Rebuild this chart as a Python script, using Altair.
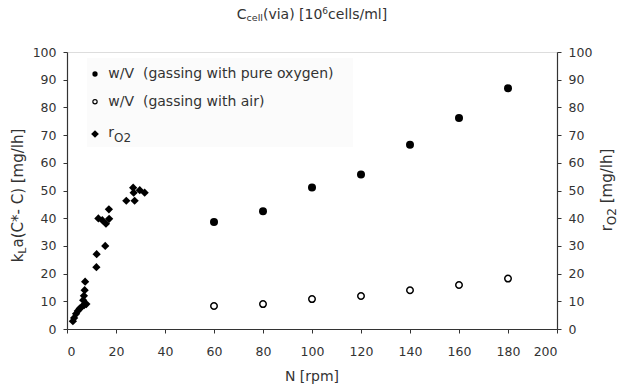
import altair as alt
import pandas as pd

# ---- data -------------------------------------------------------------
# kLa(C*-C) [mg/lh] at the shaker speeds N [rpm]
speed_rpm = [60, 80, 100, 120, 140, 160, 180]
kla_pure_oxygen = [38.6, 42.5, 51.1, 55.8, 66.5, 76.2, 86.9]
kla_air = [8.3, 9.0, 10.8, 11.9, 14.0, 15.9, 18.2]

# oxygen uptake rate r_O2 [mg/lh] against viable cell density
cell_density = [2.4, 2.9, 3.7, 4.4, 5.2, 6.0, 7.0, 7.9, 6.6, 6.9, 7.2, 7.4, 12.0,
                12.1, 15.6, 12.8, 14.4, 15.9, 17.2, 17.1, 24.2, 27.2, 27.6, 27.0,
                29.7, 31.7]
r_o2 = [2.8, 4.0, 5.5, 6.5, 7.4, 8.0, 8.6, 9.0, 10.4, 12.0, 14.0, 17.1, 22.3,
        27.0, 30.0, 39.9, 39.3, 38.0, 39.8, 43.2, 46.3, 49.2, 46.3, 51.0,
        50.1, 49.2]

x_ticks = list(range(0, 201, 20))
y_ticks = list(range(0, 101, 10))

# ---- style --------------------------------------------------------------
FONT = "DejaVu Sans"
TXT = "#333333"
AX = "#333333"
W, H = 490, 277
NBSP = "\u00a0"

# DejaVu Sans advance widths (em) for laying out sub/superscript pieces
ADV = {" ": .318, NBSP: .318, "(": .390, ")": .390, "*": .500, "-": .361,
       "/": .337, "[": .390, "]": .390, "C": .698, "L": .557, "N": .748,
       "O": .787, "V": .684, "a": .613, "c": .550, "e": .615, "g": .635,
       "h": .634, "i": .278, "k": .579, "l": .278, "m": .974, "n": .634,
       "o": .612, "p": .635, "r": .411, "s": .521, "t": .392, "u": .634,
       "v": .592, "w": .818, "x": .592, "y": .592}


def text_width(s, size):
    return sum(ADV.get(ch, .636) for ch in s) * size


def rich_text(pieces, x, y, angle=0, align="center"):
    """pieces: (text, font size, baseline shift) drawn one after another."""
    total = sum(text_width(t, s) for t, s, _ in pieces)
    off = -total / 2 if align == "center" else 0.0
    layers = []
    for t, s, shift in pieces:
        body = t.lstrip()
        lead = text_width(t[: len(t) - len(body)], s)
        layers.append(
            alt.Chart(pd.DataFrame({"t": [body]}))
            .mark_text(align="left", baseline="alphabetic", angle=angle,
                       dx=off + lead, dy=shift, fontSize=s, font=FONT, color=TXT)
            .encode(x=alt.value(x), y=alt.value(y), text="t:N")
        )
        off += text_width(t, s)
    return layers


# ---- data layers --------------------------------------------------------
kla_df = pd.DataFrame({"N": speed_rpm, "oxygen": kla_pure_oxygen, "air": kla_air})
ro2_df = pd.DataFrame({"N": cell_density, "r": r_o2})

x_enc = alt.X("N:Q", scale=alt.Scale(domain=[0, 200], nice=False),
              axis=alt.Axis(values=x_ticks, title=None, grid=False,
                            domainColor=AX, domainWidth=1.2, tickColor=AX,
                            tickSize=4, labelFont=FONT, labelFontSize=12.5,
                            labelColor=TXT, labelPadding=12))

left_axis = alt.Axis(values=y_ticks, title=None, grid=False, orient="left",
                     domainColor=AX, domainWidth=1.2, tickColor=AX, tickSize=4,
                     labelFont=FONT, labelFontSize=12.5, labelColor=TXT,
                     labelPadding=7)
right_axis = alt.Axis(values=y_ticks, title=None, grid=False, orient="right",
                      domainColor=AX, domainWidth=1.2, tickColor=AX, tickSize=4,
                      labelFont=FONT, labelFontSize=12.5, labelColor=TXT,
                      labelPadding=7)
y_scale = alt.Scale(domain=[0, 100], nice=False)

oxygen_pts = alt.Chart(kla_df).mark_point(
    shape="circle", filled=True, size=64, color="black", opacity=1
).encode(x=x_enc, y=alt.Y("oxygen:Q", scale=y_scale, axis=left_axis))

air_pts = alt.Chart(kla_df).mark_point(
    shape="circle", filled=False, size=42, color="black", strokeWidth=1.5,
    fill="white", fillOpacity=1, opacity=1
).encode(x=x_enc, y=alt.Y("air:Q", scale=y_scale, axis=left_axis))

kla_layer = alt.layer(oxygen_pts, air_pts)

ro2_pts = alt.Chart(ro2_df).mark_point(
    shape="diamond", filled=True, size=68, color="black", opacity=1
).encode(x=x_enc, y=alt.Y("r:Q", scale=y_scale, axis=right_axis))

# ---- legend ---------------------------------------------------------------
one = pd.DataFrame({"k": [0]})
legend_bg = alt.Chart(one).mark_rect(color="#fbfbfb").encode(
    x=alt.value(20), x2=alt.value(286), y=alt.value(6), y2=alt.value(95))

leg_sym = [
    alt.Chart(one).mark_point(shape="circle", filled=True, size=28,
                              color="black", opacity=1)
    .encode(x=alt.value(28), y=alt.value(22)),
    alt.Chart(one).mark_point(shape="circle", filled=False, size=18,
                              color="black", strokeWidth=1.2, opacity=1)
    .encode(x=alt.value(28), y=alt.value(49.7)),
    alt.Chart(one).mark_point(shape="diamond", filled=True, size=60,
                              color="black", opacity=1)
    .encode(x=alt.value(28), y=alt.value(82)),
]

leg_txt = (
    rich_text([("w/V" + NBSP + " (gassing with pure oxygen)", 14, 0)], 41.3, 26.3, align="left")
    + rich_text([("w/V" + NBSP + " (gassing with air)", 14, 0)], 41.3, 54, align="left")
    + rich_text([("r", 14, 0), ("O2", 12, 4.4)], 41.3, 85.3, align="left")
)

# ---- titles ---------------------------------------------------------------
top_title = rich_text([("C", 14, 0), ("cell", 9.5, 2), ("(via) [10", 14, 0),
                       ("6", 9, -5.3), ("cells/ml]", 14, 0)], W / 2, -32.7)
x_title = rich_text([("N [rpm]", 14, 0)], W / 2, 329)
left_title = rich_text([("k", 15, 0), ("L", 11, 3), ("a(C*- C) [mg/lh]", 15, 0)],
                       -44.5, 143.5, angle=270)
right_title = rich_text([("r", 15, 0), ("O2", 12, 4), (" [mg/lh]", 15, 0)],
                        545, 138, angle=270)

chart = (
    alt.layer(legend_bg, kla_layer, ro2_pts, *leg_sym, *leg_txt,
              *top_title, *x_title, *left_title, *right_title)
    .resolve_scale(y="independent")
    .properties(width=W, height=H,
                autosize=alt.AutoSizeParams(type="none"),
                padding={"left": 67, "top": 52, "right": 61, "bottom": 56})
    .configure_view(stroke=AX, strokeWidth=1.2)
    .configure(background="white")
)

chart.save("out.html", embed_options={"renderer": "svg", "actions": False})
